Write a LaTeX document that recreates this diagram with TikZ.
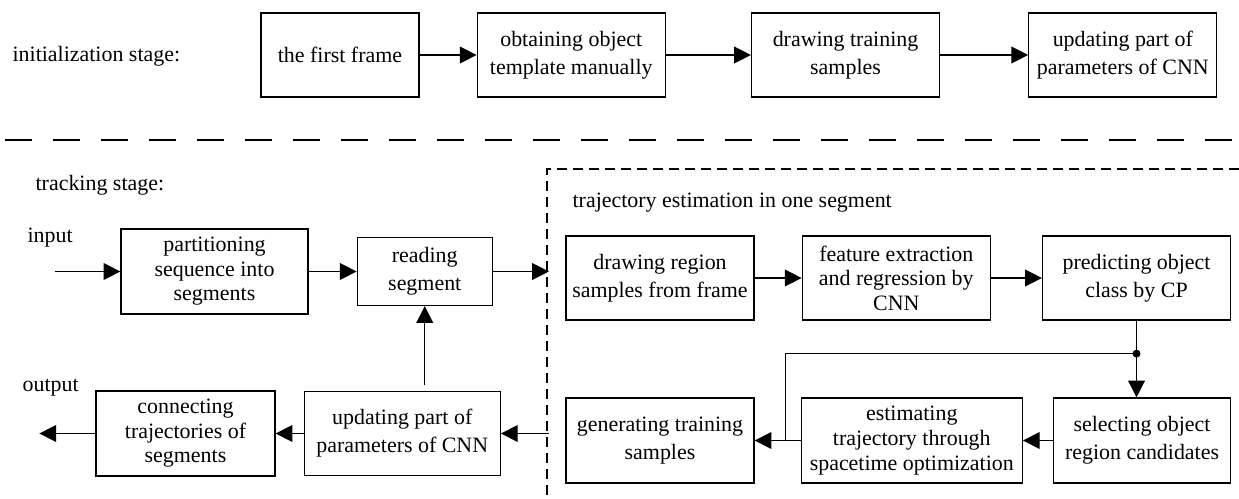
\documentclass[tikz,border=0pt]{standalone}
\usepackage{fontspec}
\setmainfont{Liberation Serif}
\usetikzlibrary{arrows.meta, positioning}

\begin{document}
\begin{tikzpicture}[node distance=1.2cm, font=\fontsize{15.6}{20}\selectfont, line width=0.9pt]
    % Define styles
    \tikzset{
        block/.style={rectangle, draw=black, align=center, minimum width=4.7cm, minimum height=2.1cm, inner sep=2pt},
        tight/.style={font=\fontsize{15.6}{17.5}\selectfont},
        stagelabel/.style={anchor=west, inner sep=0pt},
        flow/.style={-{Triangle[length=0.42cm, width=0.42cm]}},
        divider/.style={dash pattern=on 0.675cm off 0.525cm},
        segframe/.style={dash pattern=on 0.25cm off 0.15cm}
    }

    \useasboundingbox (0,0) rectangle (30.975,-12.475);

    % Initialization stage
    \node[stagelabel] (initlabel) at (0.3,-1.4) {initialization stage:};
    \node[block, minimum width=3.95cm] (first) at (8.5,-1.375) {the first frame};
    \node[block, right=1.425cm of first] (template) {obtaining object\\template manually};
    \node[block, right=2.125cm of template] (samples) {drawing training\\samples};
    \node[block, right=2.2cm of samples] (updinit) {updating part of\\parameters of CNN};

    \draw[flow] (first) -- (template);
    \draw[flow] (template) -- (samples);
    \draw[flow] (samples) -- (updinit);

    % Separator
    \draw[divider] (0.125,-3.5) -- (30.975,-3.5);

    % Tracking stage
    \node[stagelabel] (tracklabel) at (0.875,-4.625) {tracking stage:};
    \node[stagelabel] (inlabel) at (0.675,-5.95) {input};
    \node[stagelabel] (outlabel) at (0.55,-9.7) {output};

    \node[block, tight, minimum width=4.675cm, minimum height=2.125cm] (partition) at (5.3625,-6.7875) {partitioning\\sequence into\\segments};
    \node[block, minimum width=3.375cm, minimum height=1.7cm, right=1.2cm of partition] (reading) {reading\\segment};
    \coordinate[left=1.625cm of partition] (input);
    \coordinate[right=1.4cm of reading] (toseg);

    \node[block, tight, minimum width=4.475cm, minimum height=2.125cm] (connect) at (4.6375,-10.8375) {connecting\\trajectories of\\segments};
    \node[block, minimum width=4.9cm, right=0.7cm of connect] (updtrack) {updating part of\\parameters of CNN};
    \coordinate[left=1.4cm of connect] (output);
    \coordinate[right=1.2cm of updtrack] (fromseg);
    \coordinate (upstart) at (reading.south |- updtrack.north);

    % Trajectory estimation in one segment
    \draw[segframe] (30.975,-4.225) -- (13.675,-4.225) -- (13.675,-12.475);
    \node[stagelabel] (seglabel) at (14.3,-5.075) {trajectory estimation in one segment};

    \node[block] (drawreg) at (16.5,-6.95) {drawing region\\samples from frame};
    \node[block, tight, right=1.175cm of drawreg] (feature) {feature extraction\\and regression by\\CNN};
    \node[block, right=1.275cm of feature] (predict) {predicting object\\class by CP};

    \node[block, minimum height=2.125cm] (gentrain) at (16.5,-11.0125) {generating training\\samples};
    \node[block, tight, minimum width=5.525cm, minimum height=2.125cm, right=1.15cm of gentrain] (estimate) {estimating\\trajectory through\\spacetime optimization};
    \node[block, minimum width=4.425cm, minimum height=2.125cm, right=0.75cm of estimate] (select) {selecting object\\region candidates};
    \coordinate[below=0.825cm of predict] (split);
    \coordinate[right=0.775cm of gentrain] (merge);

    % Arrows
    \draw[flow] (input) -- (partition);
    \draw[flow] (partition) -- (reading);
    \draw[flow] (reading) -- (toseg);
    \draw[flow] (fromseg) -- (updtrack);
    \draw[flow] (updtrack) -- (connect);
    \draw[flow] (connect) -- (output);
    \draw[flow] ([yshift=0.15cm]upstart) -- (reading);

    \draw[flow] (drawreg) -- (feature);
    \draw[flow] (feature) -- (predict);
    \draw[flow] (predict.south) -- (predict.south |- select.north);
    \draw[flow] (select) -- (estimate);
    \draw[flow] (estimate) -- (gentrain);
    \draw (split) -| (merge);
    \fill (split) circle (0.1cm);
\end{tikzpicture}
\end{document}
